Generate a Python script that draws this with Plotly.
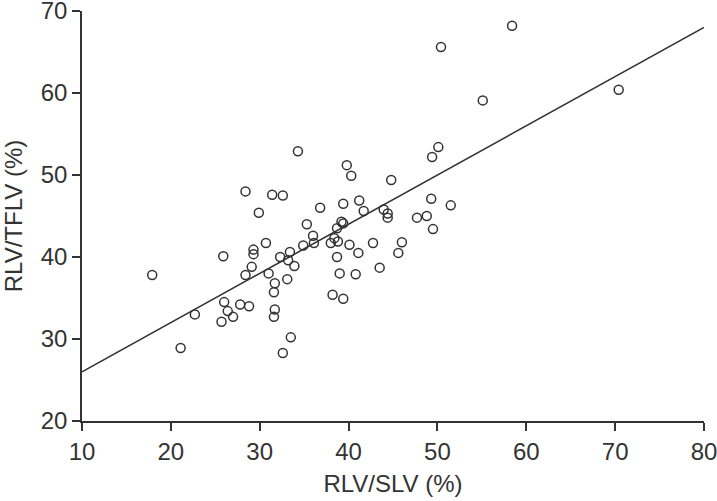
import plotly.graph_objects as go

# RLV/SLV (%)
rlv_slv = [17.9, 21.1, 22.7, 28.4, 31.4, 32.6, 29.9, 36.8, 35.3, 36.0, 36.1, 34.9, 30.7,
           33.4, 32.3, 29.3, 29.3, 25.9, 33.2, 33.9, 29.1, 28.4, 31.0, 33.1, 31.7, 31.6,
           26.0, 27.8, 28.8, 26.4, 27.0, 25.7, 31.7, 31.6, 33.5, 32.6,
           34.3, 39.8, 40.3, 44.8, 49.4, 50.1, 39.4, 41.2, 41.7, 43.95, 44.4, 44.4, 49.3,
           51.5, 47.7, 48.8, 49.5, 39.2, 39.4, 38.7, 38.4, 38.0, 38.8, 40.1, 42.75, 46.0,
           41.1, 45.6, 38.7, 43.5, 39.0, 40.8, 38.2, 39.4,
           50.4, 58.4, 55.1, 70.4]
# RLV/TFLV (%)
rlv_tflv = [37.8, 28.9, 33.0, 48.0, 47.6, 47.5, 45.4, 46.0, 44.0, 42.6, 41.7, 41.4, 41.7,
            40.6, 40.0, 40.9, 40.35, 40.1, 39.6, 38.9, 38.8, 37.8, 38.0, 37.3, 36.8, 35.7,
            34.5, 34.2, 34.0, 33.4, 32.7, 32.1, 33.6, 32.7, 30.2, 28.3,
            52.9, 51.2, 49.9, 49.4, 52.2, 53.4, 46.5, 46.9, 45.6, 45.8, 45.3, 44.8, 47.1,
            46.3, 44.8, 45.0, 43.4, 44.3, 44.1, 43.5, 42.3, 41.7, 41.9, 41.5, 41.7, 41.8,
            40.5, 40.5, 40.0, 38.7, 38.0, 37.9, 35.4, 34.9,
            65.6, 68.2, 59.1, 60.4]

# Regression line end points
fit_x = [10, 80]
fit_y = [26.0, 68.0]

x_ticks = [10, 20, 30, 40, 50, 60, 70, 80]
y_ticks = [20, 30, 40, 50, 60, 70]

ink = "#333333"
font = "Liberation Sans, Arial, sans-serif"

fig = go.Figure()
fig.add_trace(go.Scatter(x=fit_x, y=fit_y, mode="lines",
                         line=dict(color=ink, width=1.6), showlegend=False,
                         hoverinfo="skip", cliponaxis=False))
fig.add_trace(go.Scatter(x=rlv_slv, y=rlv_tflv, mode="markers",
                         marker=dict(symbol="circle-open", size=9, color=ink,
                                     line=dict(width=1.5, color=ink)),
                         showlegend=False, cliponaxis=False))

axis_common = dict(showline=True, linecolor=ink, linewidth=1.5, ticks="outside",
                   ticklen=8, tickwidth=1.5, tickcolor=ink, showgrid=False,
                   zeroline=False, tickfont=dict(family=font, size=24, color=ink),
                   mirror=False, automargin=False, ticklabeloverflow="allow")

fig.update_layout(
    width=717, height=501,
    margin=dict(l=82, r=13, t=11, b=80),
    plot_bgcolor="white", paper_bgcolor="white",
    xaxis=dict(range=[10, 80], tickvals=x_ticks, **axis_common,
               title=dict(text="RLV/SLV (%)", font=dict(family=font, size=24, color=ink),
                          standoff=12)),
    yaxis=dict(range=[20, 70], tickvals=y_ticks, **axis_common,
               title=dict(text="RLV/TFLV (%)", font=dict(family=font, size=24, color=ink),
                          standoff=13)),
)

fig.write_html("out.html", config={"displayModeBar": False},
               post_script="document.body.style.margin='0';document.body.style.overflow='hidden';")
